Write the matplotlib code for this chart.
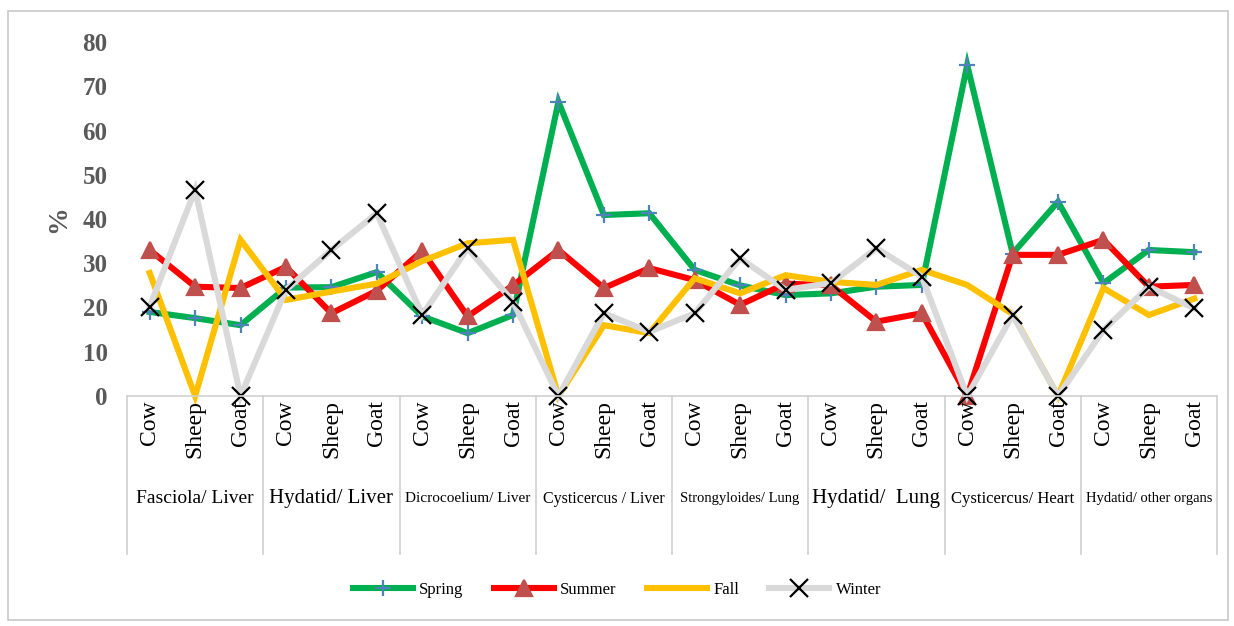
"""Seasonal prevalence (%) of parasites by organ and host, line chart with category table."""
import matplotlib

matplotlib.use("Agg")
import matplotlib.pyplot as plt  # noqa: E402
from matplotlib.lines import Line2D  # noqa: E402
from matplotlib.patches import Rectangle  # noqa: E402
from matplotlib.transforms import blended_transform_factory  # noqa: E402

plt.rcParams["font.family"] = ["Liberation Serif", "DejaVu Serif"]

ANIMALS = ["Cow", "Sheep", "Goat"]
GROUPS = [
    "Fasciola/ Liver",
    "Hydatid/ Liver",
    "Dicrocoelium/ Liver",
    "Cysticercus / Liver",
    "Strongyloides/ Lung",
    "Hydatid/  Lung",
    "Cysticercus/ Heart",
    "Hydatid/ other organs",
]

spring = [19.0, 17.6, 16.0, 24.5, 24.6, 28.0, 18.0, 14.2, 18.3, 66.5, 40.9, 41.3,
          28.5, 25.0, 22.8, 23.2, 24.7, 25.1, 74.8, 32.2, 43.9, 25.5, 33.0, 32.5]
summer = [33.0, 24.7, 24.4, 29.2, 18.7, 23.8, 32.8, 18.0, 25.0, 33.0, 24.4, 28.9,
          26.2, 20.6, 25.4, 25.0, 16.8, 18.7, 0.0, 31.9, 31.9, 35.3, 24.7, 25.1]
fall = [27.8, 0.0, 35.3, 21.7, 23.6, 25.4, 30.5, 34.5, 35.3, 0.0, 16.0, 14.2,
        26.6, 23.2, 27.3, 25.8, 25.1, 28.5, 25.1, 18.5, 0.0, 24.4, 18.3, 22.0]
winter = [20.2, 46.6, 0.0, 24.0, 33.0, 41.3, 18.3, 33.4, 21.3, 0.0, 18.7, 14.5,
          18.7, 31.1, 24.0, 25.5, 33.4, 27.0, 0.0, 18.3, 0.0, 14.9, 24.7, 19.8]

SEASONS = ["Spring", "Summer", "Fall", "Winter"]
LINE_COLORS = ["#00b050", "#ff0000", "#ffc000", "#d9d9d9"]
MARKERS = ["+", "^", None, "x"]
MARKER_COLORS = ["#4f81bd", "#c0504d", None, "#000000"]
MARKER_SIZES = [12, 12, 0, 13]
GROUP_FONTSIZES = [14, 15, 11, 11.5, 10.5, 15, 12, 10.5]
TABLE_BOTTOM = -0.445
TEXT_COLOR = "#595959"
EDGE = "#d0d0d0"

W, H = 1234, 626
fig = plt.figure(figsize=(W / 100, H / 100), dpi=100)
ax = fig.add_axes([127 / W, 1 - 396 / H, (1217 - 127) / W, (396 - 42) / H])

# outer frame around whole picture
fig.patches.append(Rectangle((8 / W, 6 / H), 1220 / W, 609 / H, transform=fig.transFigure,
                             fill=False, edgecolor="#c8c8c8", linewidth=1.2))

xs = list(range(len(spring)))
for name, vals, lc, mk, mc, ms in zip(SEASONS, [spring, summer, fall, winter], LINE_COLORS,
                                      MARKERS, MARKER_COLORS, MARKER_SIZES):
    ax.plot(xs, vals, color=lc, linewidth=4.4, marker=mk, markersize=ms,
            markerfacecolor=mc, markeredgecolor=mc, markeredgewidth=1.6,
            label=name, clip_on=False, solid_joinstyle="miter")

ax.set_xlim(-0.5, len(xs) - 0.5)
ax.set_ylim(0, 80)
ax.set_yticks(range(0, 81, 10))
ax.set_xticks([])
for lbl in ax.get_yticklabels():
    lbl.set_fontweight("bold")
ax.tick_params(axis="y", length=0, pad=14, labelsize=18, labelcolor=TEXT_COLOR)
for side in ["top", "right", "left"]:
    ax.spines[side].set_visible(False)
ax.spines["bottom"].set_color(EDGE)
ax.spines["bottom"].set_linewidth(1.2)
ax.set_ylabel("%", fontsize=20, fontweight="bold", color=TEXT_COLOR, labelpad=8)

# category table under the axis
tr = blended_transform_factory(ax.transData, ax.transAxes)
n_groups = len(GROUPS)
for g in range(n_groups + 1):
    xb = g * 3 - 0.5
    ax.add_line(Line2D([xb, xb], [0, TABLE_BOTTOM], transform=tr, color=EDGE,
                       linewidth=1.2, clip_on=False))
for i in xs:
    ax.text(i, -0.012, ANIMALS[i % 3], transform=tr, rotation=90, ha="center", va="top",
            fontsize=17, color="black")
for g, (name, fs) in enumerate(zip(GROUPS, GROUP_FONTSIZES)):
    ax.text(g * 3 + 1, -0.29, name, transform=tr, ha="center", va="center",
            fontsize=fs, color="black")

fig.legend(loc="center", bbox_to_anchor=(0.5, 1 - 590 / H), ncol=4, frameon=False,
           fontsize=12, handlelength=3.6, columnspacing=1.8, handletextpad=0.4)

fig.savefig("out.png", dpi=100, facecolor="white")
